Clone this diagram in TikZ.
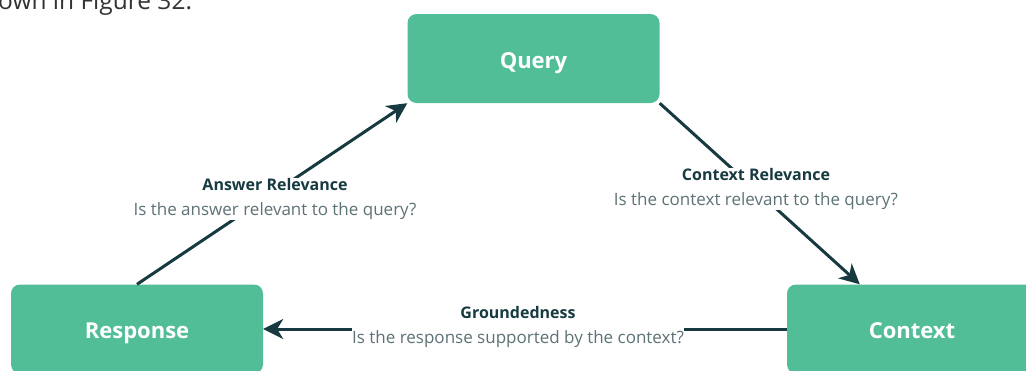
\documentclass[tikz,border=0pt]{standalone}
\usepackage{fontspec}
\setmainfont{Open Sans}
\usetikzlibrary{arrows.meta,calc}
\definecolor{boxgreen}{HTML}{52BE97}
\definecolor{darkteal}{HTML}{163A40}
\definecolor{subgray}{HTML}{5D7275}
\begin{document}
\begin{tikzpicture}[x=1pt,y=-1pt,
 box/.style={draw=none, fill=boxgreen, rounded corners=9pt, minimum width=252pt, minimum height=89pt, text=white, text height=19pt, text depth=0pt, font=\fontsize{22}{26}\selectfont\bfseries},
 conn/.style={draw=darkteal, line width=3pt, -{Stealth[length=20pt,width=20pt,inset=6pt]}},
 lbl/.style={fill=white, inner sep=0pt, align=center, text=subgray, font=\fontsize{17}{25}\selectfont},
 ttl/.style={font=\fontsize{16}{25}\selectfont\bfseries, text=darkteal}]
\clip (0,0) rectangle (1026,370);
\useasboundingbox (0,0) rectangle (1026,370);
\node[anchor=base west, inner sep=0pt, text=black!80, font=\fontsize{24.5}{28}\selectfont] (cap) at (-2,9.5) {own in Figure 32.};
\node[box] (query) at (533.5,58.5) {Query};
\node[box] (response) at (137,329) {Response};
\node[box, minimum width=250pt] (context) at (912,329) {Context};
\draw[conn] (response.north) -- (query.south west);
\draw[conn] (query.south east) -- ([xshift=73pt]context.north west);
\draw[conn] (context.west) -- (response.east);
\node[lbl] (ar) at (275,199) {{\fontsize{16}{25}\selectfont\bfseries\color{darkteal}Answer Relevance}\\Is the answer relevant to the query?};
\node[lbl] (cr) at (756,189) {{\fontsize{16}{25}\selectfont\bfseries\color{darkteal}Context Relevance}\\Is the context relevant to the query?};
\node[lbl] (gr) at (518,327) {{\fontsize{16}{25}\selectfont\bfseries\color{darkteal}Groundedness}\\Is the response supported by the context?};
\end{tikzpicture}
\end{document}
